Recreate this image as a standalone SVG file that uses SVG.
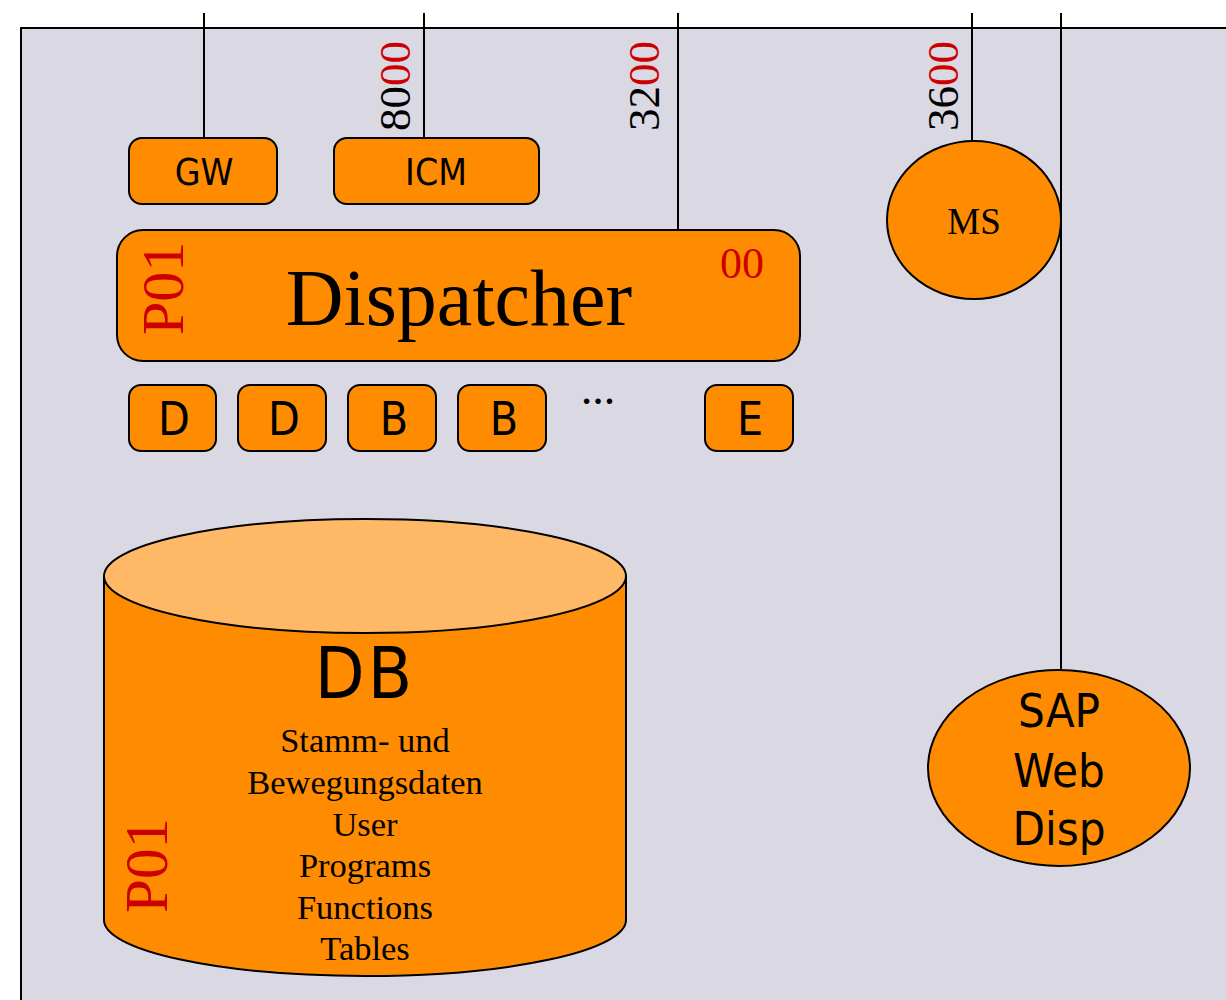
<svg xmlns="http://www.w3.org/2000/svg" width="1226" height="1000" viewBox="0 0 1226 1000">
<style>
.box{fill:#ff8c00;stroke:#000;stroke-width:2}
.ln{stroke:#000;stroke-width:2;fill:none}
.sans{font-family:"DejaVu Sans Condensed","DejaVu Sans",sans-serif;fill:#000}
.serif{font-family:"Liberation Serif","Times New Roman",serif;fill:#000}
.red{fill:#cc0000}
</style>
<rect x="0" y="0" width="1226" height="1000" fill="#fff"/>
<rect x="21" y="28" width="1220" height="990" fill="#dad8e2" stroke="#000" stroke-width="2"/>
<g id="connectors">
<line class="ln" x1="204" y1="13" x2="204" y2="140"/>
<line class="ln" x1="424" y1="13" x2="424" y2="140"/>
<line class="ln" x1="678" y1="13" x2="678" y2="232"/>
<line class="ln" x1="972" y1="13" x2="972" y2="143"/>
<line class="ln" x1="1061" y1="13" x2="1061" y2="669"/>
</g>
<g id="port-labels">
<text class="serif" font-family="Liberation Serif, serif" font-size="45" transform="translate(410,131) rotate(-90)">80<tspan class="red">00</tspan></text>
<text class="serif" font-family="Liberation Serif, serif" font-size="45" transform="translate(659,131) rotate(-90)">32<tspan class="red">00</tspan></text>
<text class="serif" font-family="Liberation Serif, serif" font-size="45" transform="translate(958,131) rotate(-90)">36<tspan class="red">00</tspan></text>
</g>
<g id="gw">
<rect class="box" x="129" y="138" width="148" height="66" rx="13"/>
<text class="sans" x="204" y="185" font-size="37" text-anchor="middle">GW</text>
</g>
<g id="icm">
<rect class="box" x="334" y="138" width="205" height="66" rx="13"/>
<text class="sans" x="436" y="185" font-size="37" text-anchor="middle">ICM</text>
</g>
<g id="dispatcher">
<rect class="box" x="117" y="230" width="683" height="131" rx="26"/>
<text class="serif" x="459" y="325" font-size="80" text-anchor="middle">Dispatcher</text>
<text class="serif red" x="742" y="278" font-size="44" text-anchor="middle">00</text>
<text class="serif red" font-size="60" transform="translate(183,335) rotate(-90)">P01</text>
</g>
<g id="wp-d1"><rect class="box" x="129" y="385" width="87" height="66" rx="12"/><text class="sans" x="174" y="435" font-size="46" text-anchor="middle">D</text></g>
<g id="wp-d2"><rect class="box" x="238" y="385" width="88" height="66" rx="12"/><text class="sans" x="284" y="435" font-size="46" text-anchor="middle">D</text></g>
<g id="wp-b1"><rect class="box" x="348" y="385" width="88" height="66" rx="12"/><text class="sans" x="394" y="435" font-size="46" text-anchor="middle">B</text></g>
<g id="wp-b2"><rect class="box" x="458" y="385" width="88" height="66" rx="12"/><text class="sans" x="504" y="435" font-size="46" text-anchor="middle">B</text></g>
<g id="ellipsis"><text class="serif" x="598" y="404" font-size="34" font-weight="bold" text-anchor="middle">…</text></g>
<g id="wp-e"><rect class="box" x="705" y="385" width="88" height="66" rx="12"/><text class="sans" x="750" y="435" font-size="46" text-anchor="middle">E</text></g>
<g id="ms">
<ellipse class="box" cx="974" cy="220" rx="87" ry="79"/>
<text class="serif" x="974" y="234" font-size="37" text-anchor="middle">MS</text>
</g>
<g id="sapwebdisp">
<ellipse class="box" cx="1059" cy="768" rx="131" ry="98"/>
<text class="sans" x="1059" y="727" font-size="47" text-anchor="middle">SAP</text>
<text class="sans" x="1059" y="787" font-size="47" text-anchor="middle">Web</text>
<text class="sans" x="1059" y="845" font-size="47" text-anchor="middle">Disp</text>
</g>
<g id="db">
<path class="box" d="M104,576 L104,920 A261,56 0 0 0 626,920 L626,576 Z"/>
<ellipse cx="365" cy="576" rx="261" ry="57" fill="#ffb966" stroke="#000" stroke-width="2"/>
<text class="sans" x="365" y="698" font-size="72" letter-spacing="3" text-anchor="middle">DB</text>
<g class="serif" font-size="34.5" text-anchor="middle">
<text x="365" y="752">Stamm- und</text>
<text x="365" y="794">Bewegungsdaten</text>
<text x="365" y="836">User</text>
<text x="365" y="877">Programs</text>
<text x="365" y="919">Functions</text>
<text x="365" y="960">Tables</text>
</g>
<text class="serif red" font-size="61" transform="translate(167,913) rotate(-90)">P01</text>
</g>
</svg>
